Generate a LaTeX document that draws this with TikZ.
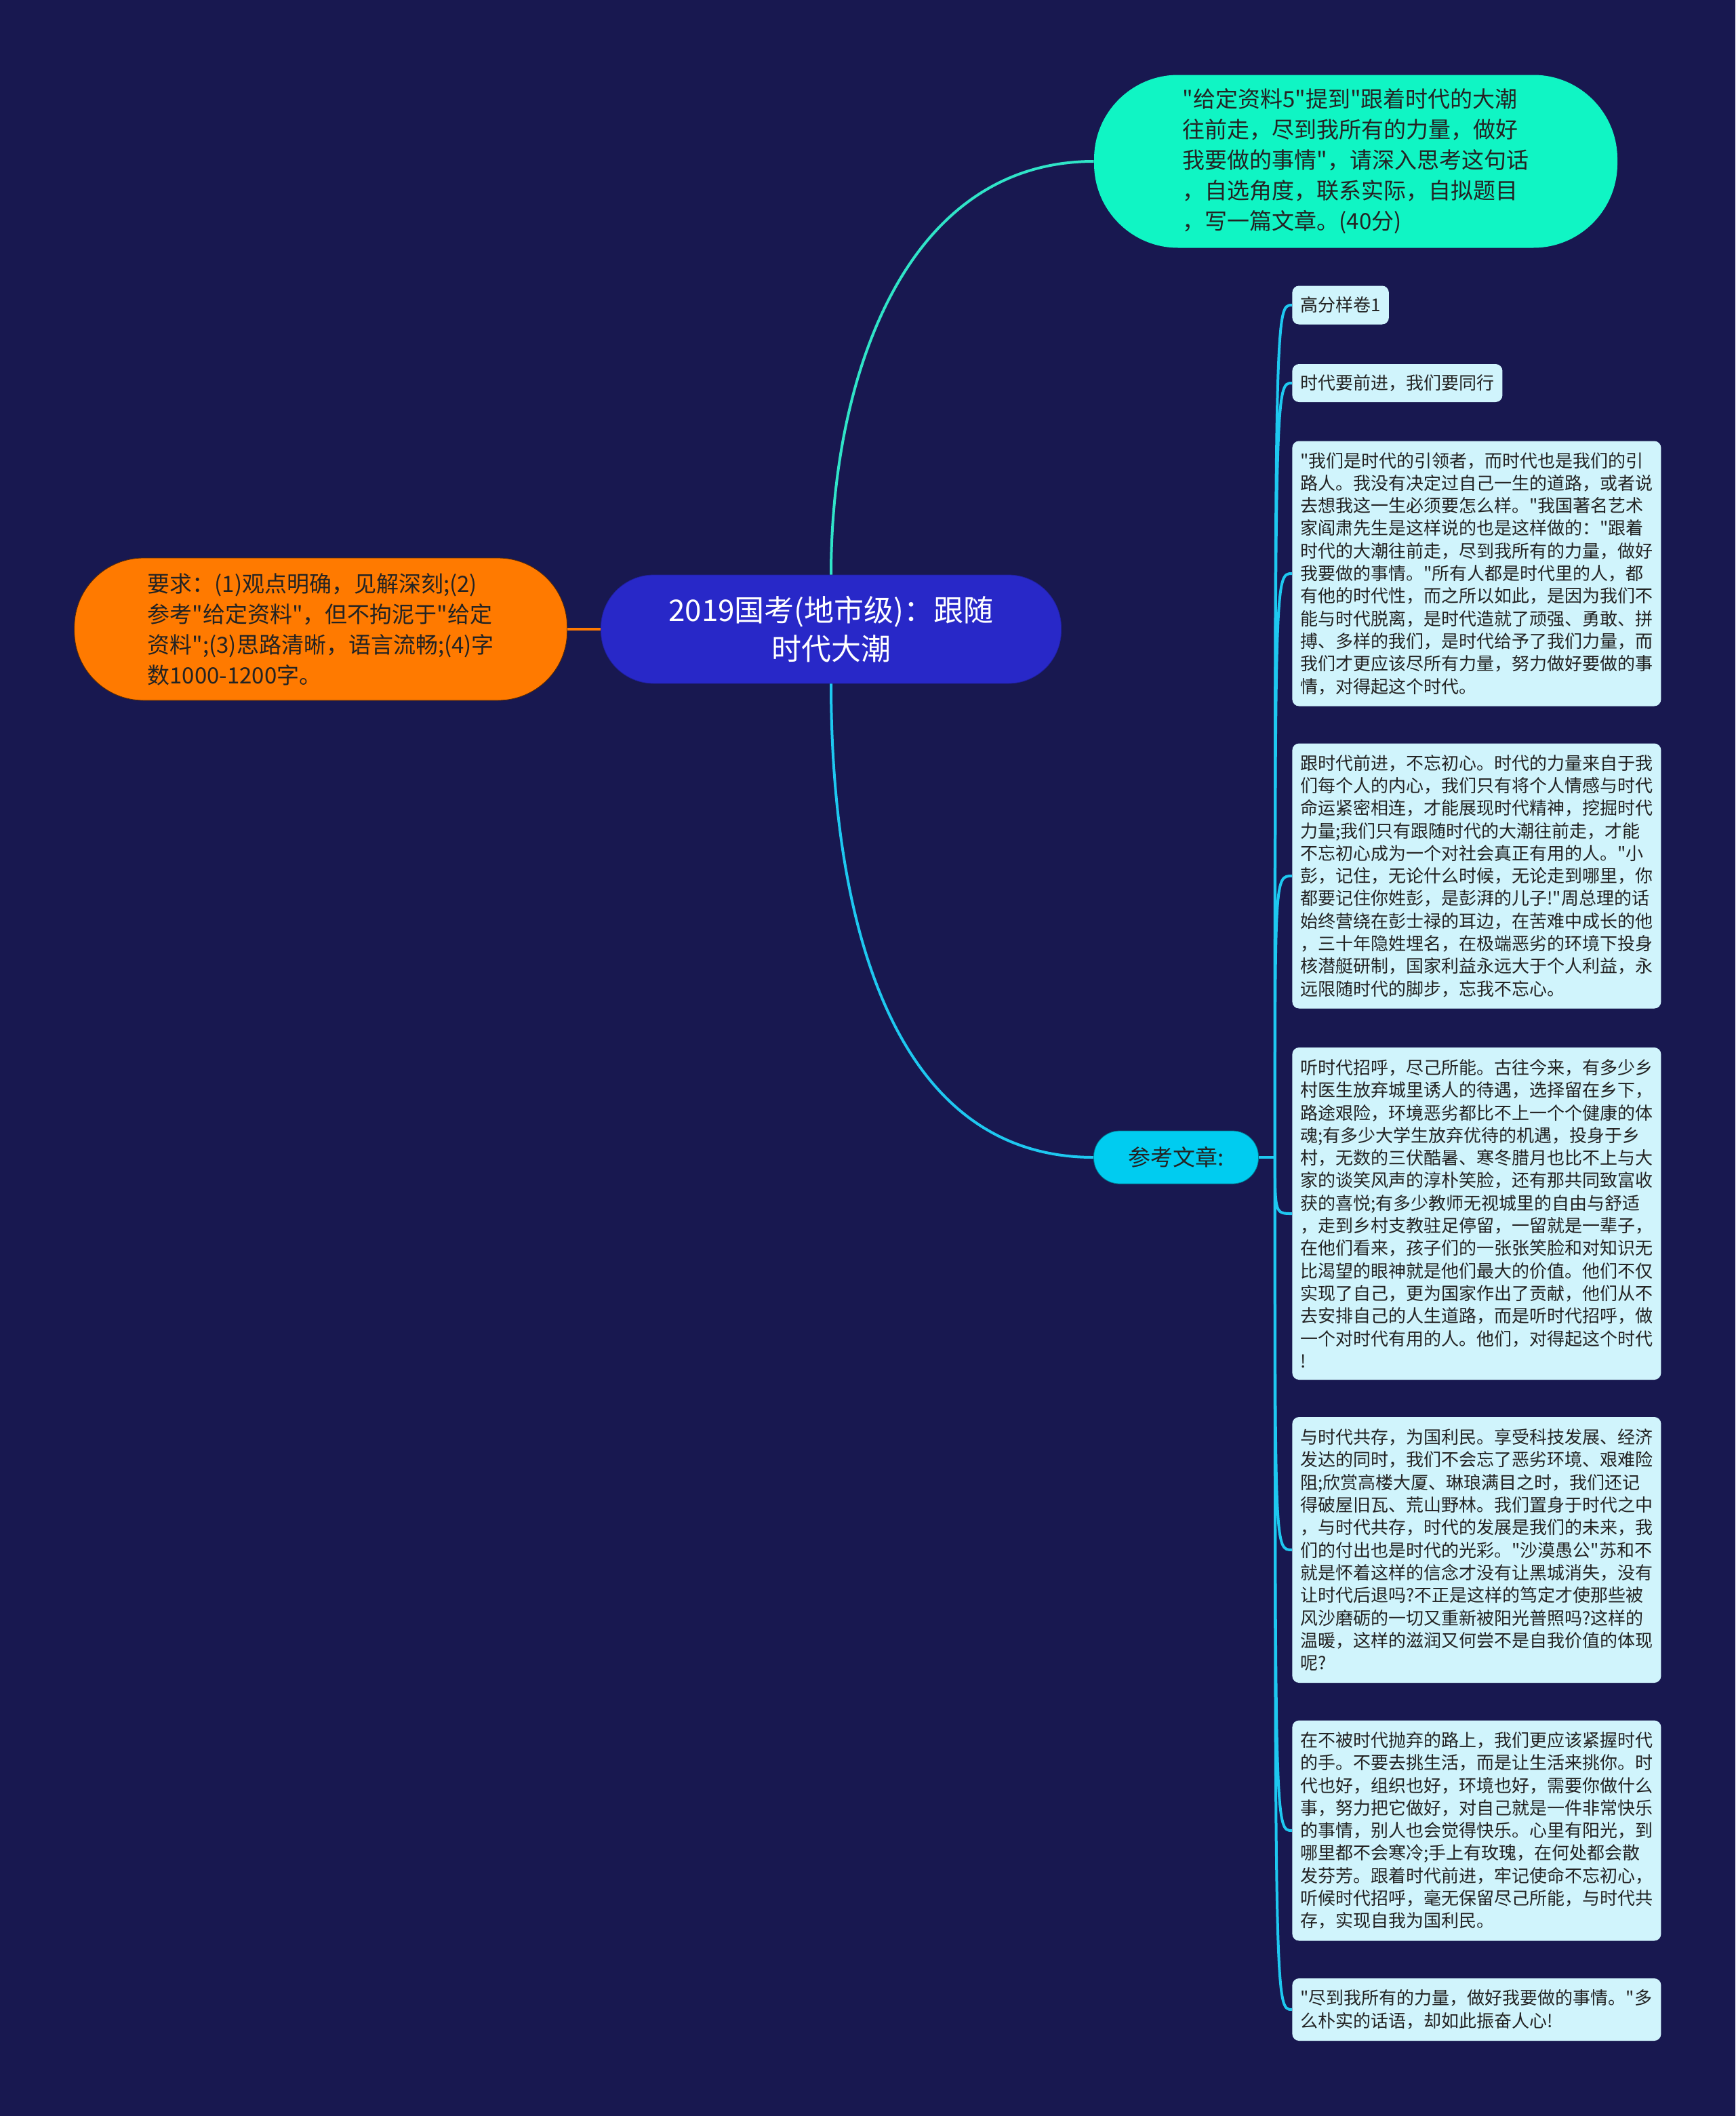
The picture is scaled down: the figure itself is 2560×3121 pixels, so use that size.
\documentclass[tikz,border=0pt]{standalone}
\usepackage{fontspec}
\newfontfamily\cjkfont{Noto Sans CJK SC}
\usepackage{xcolor}
\usetikzlibrary{positioning}
\definecolor{bgnavy}{RGB}{24,24,80}
\definecolor{rootblue}{RGB}{40,40,200}
\definecolor{askorange}{RGB}{255,122,0}
\definecolor{topicgreen}{RGB}{16,245,196}
\definecolor{tealline}{RGB}{48,228,200}
\definecolor{refcyan}{RGB}{0,204,240}
\definecolor{leafcyan}{RGB}{208,244,252}
\definecolor{linecyan}{RGB}{30,200,240}
\definecolor{inkdark}{RGB}{35,35,35}
\tikzstyle{rootnode} = [rectangle, rounded corners=39pt, minimum width=339.5pt, minimum height=80pt, align=center, fill=rootblue, draw=rootblue!80!black, text=white, font=\cjkfont\fontsize{22pt}{28.5pt}\selectfont]
\tikzstyle{topicnode} = [rectangle, rounded corners=62pt, minimum width=386pt, minimum height=127.5pt, align=left, fill=topicgreen, text=inkdark, font=\cjkfont\fontsize{16.5pt}{22.5pt}\selectfont]
\tikzstyle{asknode} = [rectangle, rounded corners=51pt, minimum width=363.5pt, minimum height=105pt, align=left, fill=askorange, draw=askorange!35!black, text=inkdark, font=\cjkfont\fontsize{16.5pt}{22.5pt}\selectfont]
\tikzstyle{refnode} = [rectangle, rounded corners=19pt, minimum width=121.5pt, minimum height=39pt, align=center, fill=refcyan, draw=refcyan!60!black, text=inkdark, font=\cjkfont\fontsize{16.5pt}{22.5pt}\selectfont]
\tikzstyle{leafnode} = [rectangle, rounded corners=5pt, inner xsep=6pt, inner ysep=4pt, align=left, fill=leafcyan, text=inkdark, font=\cjkfont\fontsize{13pt}{16.65pt}\selectfont]
\tikzstyle{leafwide} = [leafnode, text width=260pt]
\tikzstyle{link} = [line width=2pt]

\begin{document}
\begin{tikzpicture}[x=0.5pt, y=-0.5pt]
    \fill[bgnavy] (0,0) rectangle (2560,3121);
    \node (root) [rootnode] at (1226,928) {2019国考(地市级)：跟随\\时代大潮};
    \node (ask) [asknode, left=24.5pt of root] {要求：(1)观点明确，见解深刻;(2)\\参考"给定资料"，但不拘泥于"给定\\资料";(3)思路清晰，语言流畅;(4)字\\数1000-1200字。};
    \node (topic) [topicnode] at (2000,238) {"给定资料5"提到"跟着时代的大潮\\往前走，尽到我所有的力量，做好\\我要做的事情"，请深入思考这句话\\，自选角度，联系实际，自拟题目\\，写一篇文章。(40分)};
    \node (ref) [refnode] at (1735,1707) {参考文章:};
    \coordinate [right=12pt of ref.east] (hub);

    % leaves under the reference articles
    \node (l1) [leafnode, minimum height=28.5pt, anchor=west] at (1906,450) {高分样卷1};
    \node (l2) [leafnode, minimum height=28pt, anchor=west] at (1906,565) {时代要前进，我们要同行};
    \node (l3) [leafwide, minimum height=195.5pt, anchor=west] at (1906,846) {"我们是时代的引领者，而时代也是我们的引\\路人。我没有决定过自己一生的道路，或者说\\去想我这一生必须要怎么样。"我国著名艺术\\家阎肃先生是这样说的也是这样做的："跟着\\时代的大潮往前走，尽到我所有的力量，做好\\我要做的事情。"所有人都是时代里的人，都\\有他的时代性，而之所以如此，是因为我们不\\能与时代脱离，是时代造就了顽强、勇敢、拼\\搏、多样的我们，是时代给予了我们力量，而\\我们才更应该尽所有力量，努力做好要做的事\\情，对得起这个时代。};
    \node (l4) [leafwide, minimum height=195.5pt, anchor=west] at (1906,1292) {跟时代前进，不忘初心。时代的力量来自于我\\们每个人的内心，我们只有将个人情感与时代\\命运紧密相连，才能展现时代精神，挖掘时代\\力量;我们只有跟随时代的大潮往前走，才能\\不忘初心成为一个对社会真正有用的人。"小\\彭，记住，无论什么时候，无论走到哪里，你\\都要记住你姓彭，是彭湃的儿子!"周总理的话\\始终营绕在彭士禄的耳边，在苦难中成长的他\\，三十年隐姓埋名，在极端恶劣的环境下投身\\核潜艇研制，国家利益永远大于个人利益，永\\远限随时代的脚步，忘我不忘心。};
    \node (l5) [leafwide, minimum height=245pt, anchor=west] at (1906,1790) {听时代招呼，尽己所能。古往今来，有多少乡\\村医生放弃城里诱人的待遇，选择留在乡下，\\路途艰险，环境恶劣都比不上一个个健康的体\\魂;有多少大学生放弃优待的机遇，投身于乡\\村，无数的三伏酷暑、寒冬腊月也比不上与大\\家的谈笑风声的淳朴笑脸，还有那共同致富收\\获的喜悦;有多少教师无视城里的自由与舒适\\，走到乡村支教驻足停留，一留就是一辈子，\\在他们看来，孩子们的一张张笑脸和对知识无\\比渴望的眼神就是他们最大的价值。他们不仅\\实现了自己，更为国家作出了贡献，他们从不\\去安排自己的人生道路，而是听时代招呼，做\\一个对时代有用的人。他们，对得起这个时代\\!};
    \node (l6) [leafwide, minimum height=196pt, anchor=west] at (1906,2286) {与时代共存，为国利民。享受科技发展、经济\\发达的同时，我们不会忘了恶劣环境、艰难险\\阻;欣赏高楼大厦、琳琅满目之时，我们还记\\得破屋旧瓦、荒山野林。我们置身于时代之中\\，与时代共存，时代的发展是我们的未来，我\\们的付出也是时代的光彩。"沙漠愚公"苏和不\\就是怀着这样的信念才没有让黑城消失，没有\\让时代后退吗?不正是这样的笃定才使那些被\\风沙磨砺的一切又重新被阳光普照吗?这样的\\温暖，这样的滋润又何尝不是自我价值的体现\\呢?};
    \node (l7) [leafwide, minimum height=162.5pt, anchor=west] at (1906,2700) {在不被时代抛弃的路上，我们更应该紧握时代\\的手。不要去挑生活，而是让生活来挑你。时\\代也好，组织也好，环境也好，需要你做什么\\事，努力把它做好，对自己就是一件非常快乐\\的事情，别人也会觉得快乐。心里有阳光，到\\哪里都不会寒冷;手上有玫瑰，在何处都会散\\发芬芳。跟着时代前进，牢记使命不忘初心，\\听候时代招呼，毫无保留尽己所能，与时代共\\存，实现自我为国利民。};
    \node (l8) [leafwide, minimum height=46pt, anchor=west] at (1906,2964) {"尽到我所有的力量，做好我要做的事情。"多\\么朴实的话语，却如此振奋人心!};

    % connectors
    \draw [link, askorange] (root.west) -- (ask.east);
    \draw [link, tealline] (root.north) to[out=90, in=180] (topic.west);
    \draw [link, linecyan] (root.south) to[out=-90, in=180] (ref.west);
    \draw [link, linecyan] (ref.east) -- (hub);
    \foreach \leaf in {l1,l2,l3,l4,l5,l6,l7,l8}
        \draw [link, linecyan] (hub) .. controls (hub |- \leaf.west) .. (\leaf.west);
\end{tikzpicture}
\end{document}
